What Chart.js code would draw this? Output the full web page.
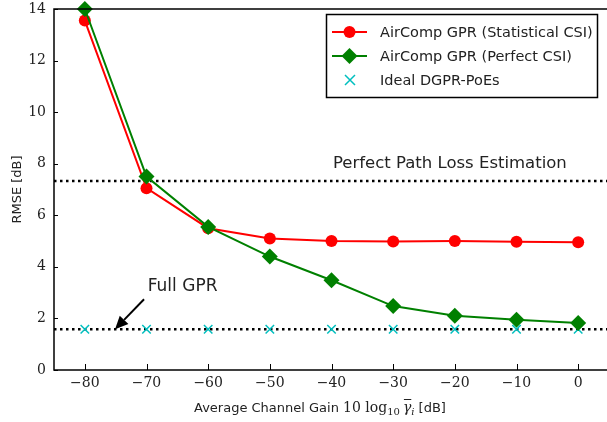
<!DOCTYPE html>
<html>
<head>
<meta charset="utf-8">
<script src="https://cdn.jsdelivr.net/npm/chart.js@4/dist/chart.umd.min.js"></script>
<style>
  html, body { margin: 0; padding: 0; background: #fff; overflow: hidden; }
  #wrap { width: 607px; height: 422px; overflow: hidden; }
</style>
</head>
<body>
<div id="wrap"><canvas id="c" width="612" height="422"></canvas></div>
<script>
// Average channel gain (dB) on the x axis
const gains = [-80, -70, -60, -50, -40, -30, -20, -10, 0];
// RMSE [dB] for each scheme
const rmseStatistical = [13.55, 7.05, 5.5, 5.1, 5.0, 4.98, 5.0, 4.97, 4.95];
const rmsePerfect = [14.0, 7.5, 5.55, 4.4, 3.48, 2.48, 2.1, 1.95, 1.82];
const rmseIdeal = [1.58, 1.58, 1.58, 1.58, 1.58, 1.58, 1.58, 1.58, 1.58];
// Reference levels
const pathLossLevel = 7.33;
const fullGprLevel = 1.58;
const xTicks = [-80, -70, -60, -50, -40, -30, -20, -10, 0];
const yTicks = [0, 2, 4, 6, 8, 10, 12, 14];

const SANS = '"DejaVu Sans", sans-serif';
const SERIF = '"DejaVu Serif", "Liberation Serif", serif';
const CYAN = '#00bfbf';

const pts = (ys) => gains.map((g, i) => ({ x: g, y: ys[i] }));
const hline = (v) => [{ x: -85, y: v }, { x: 5, y: v }];

const legendItems = [
  { label: 'AirComp GPR (Statistical CSI)', color: '#ff0000', style: 'circle', line: true },
  { label: 'AirComp GPR (Perfect CSI)', color: '#008000', style: 'rectRot', line: true },
  { label: 'Ideal DGPR-PoEs', color: CYAN, style: 'crossRot', line: false }
];

// Draws a run of [text, font, dy, overline, gapAfter] pieces left to right
function drawRuns(ctx, runs, x, y) {
  let cx = x;
  runs.forEach(r => {
    ctx.font = r[1];
    ctx.fillText(r[0], cx, y + (r[2] || 0));
    const w = ctx.measureText(r[0]).width;
    if (r[3]) {
      ctx.fillRect(cx + 1, y - 13, w - 1, 1);
    }
    cx += w + (r[4] || 0);
  });
  return cx;
}

const framePlugin = {
  id: 'frame',
  afterDatasetsDraw(chart) {
    const { ctx, chartArea: a, scales } = chart;
    ctx.save();
    // inward tick marks
    ctx.strokeStyle = '#000';
    ctx.lineWidth = 1;
    scales.x.ticks.forEach(t => {
      const px = Math.round(scales.x.getPixelForValue(t.value)) + 0.5;
      ctx.beginPath(); ctx.moveTo(px, a.bottom); ctx.lineTo(px, a.bottom - 6); ctx.stroke();
    });
    scales.y.ticks.forEach(t => {
      const py = Math.round(scales.y.getPixelForValue(t.value)) + 0.5;
      ctx.beginPath(); ctx.moveTo(a.left, py); ctx.lineTo(a.left + 4, py); ctx.stroke();
    });
    // plot frame
    ctx.lineWidth = 1.5;
    ctx.strokeRect(a.left, a.top, a.right - a.left, a.bottom - a.top);

    // annotations
    ctx.fillStyle = '#222';
    ctx.font = '16.5px ' + SANS;
    ctx.textAlign = 'center';
    ctx.textBaseline = 'middle';
    const yPL = scales.y.getPixelForValue(pathLossLevel);
    ctx.fillText('Perfect Path Loss Estimation', scales.x.getPixelForValue(-20.8), yPL - 17);
    const yFG = scales.y.getPixelForValue(fullGprLevel);
    ctx.textAlign = 'left';
    ctx.font = '17px ' + SANS;
    ctx.fillText('Full GPR', scales.x.getPixelForValue(-69.8), yFG - 43);

    // arrow pointing at the Full GPR level
    const tipX = scales.x.getPixelForValue(-75.1), tipY = yFG;
    const tailX = tipX + 29, tailY = tipY - 30;
    const ang = Math.atan2(tipY - tailY, tipX - tailX);
    const hl = 13, hw = 6;
    const bx = tipX - hl * Math.cos(ang), by = tipY - hl * Math.sin(ang);
    ctx.strokeStyle = '#000';
    ctx.lineWidth = 2;
    ctx.beginPath(); ctx.moveTo(tailX, tailY); ctx.lineTo(bx, by); ctx.stroke();
    ctx.fillStyle = '#000';
    ctx.beginPath();
    ctx.moveTo(tipX, tipY);
    ctx.lineTo(bx + hw * Math.sin(ang), by - hw * Math.cos(ang));
    ctx.lineTo(bx - hw * Math.sin(ang), by + hw * Math.cos(ang));
    ctx.closePath(); ctx.fill();

    // x axis title with math part
    ctx.fillStyle = '#222';
    ctx.textBaseline = 'alphabetic';
    ctx.textAlign = 'left';
    drawRuns(ctx, [
      ['Average Channel Gain ', '13px ' + SANS, 0, false, 0],
      ['10 log', '14px ' + SERIF, 0, false, 0],
      ['10', '10px ' + SERIF, 3, false, 3],
      ['\u03B3', 'italic 14px ' + SERIF, 0, true, 0],
      ['i', 'italic 10px ' + SERIF, 3, false, 0],
      [' [dB]', '13px ' + SANS, 0, false, 0]
    ], 194, 412);

    // legend box
    const lx = 326, ly = 14, lw = 271, lh = 83;
    ctx.fillStyle = '#fff';
    ctx.fillRect(lx, ly, lw, lh);
    ctx.strokeStyle = '#000';
    ctx.lineWidth = 1.5;
    ctx.strokeRect(lx + 0.5, ly + 0.5, lw, lh);
    ctx.font = '14.5px ' + SANS;
    ctx.textAlign = 'left';
    ctx.textBaseline = 'middle';
    legendItems.forEach((it, i) => {
      const cy = 32 + i * 24;
      if (it.line) {
        ctx.strokeStyle = it.color; ctx.lineWidth = 2;
        ctx.beginPath(); ctx.moveTo(332, cy); ctx.lineTo(367, cy); ctx.stroke();
      }
      ctx.fillStyle = it.color; ctx.strokeStyle = it.color;
      if (it.style === 'circle') {
        ctx.beginPath(); ctx.arc(349.5, cy, 6, 0, Math.PI * 2); ctx.fill();
      } else if (it.style === 'rectRot') {
        ctx.beginPath();
        ctx.moveTo(349.5, cy - 8); ctx.lineTo(357.5, cy); ctx.lineTo(349.5, cy + 8); ctx.lineTo(341.5, cy);
        ctx.closePath(); ctx.fill();
      } else {
        ctx.lineWidth = 1.5;
        ctx.beginPath();
        ctx.moveTo(345, cy - 5); ctx.lineTo(355, cy + 5);
        ctx.moveTo(355, cy - 5); ctx.lineTo(345, cy + 5);
        ctx.stroke();
      }
      ctx.fillStyle = '#222';
      ctx.fillText(it.label, 380, cy + 1);
    });
    ctx.restore();
  }
};

new Chart(document.getElementById('c'), {
  type: 'line',
  data: {
    datasets: [
      {
        label: 'Perfect Path Loss Estimation', data: hline(pathLossLevel),
        borderColor: '#000', borderWidth: 2.5, borderDash: [2.5, 3.5], pointRadius: 0, order: 5
      },
      {
        label: 'Full GPR', data: hline(fullGprLevel),
        borderColor: '#000', borderWidth: 2.5, borderDash: [2.5, 3.5], pointRadius: 0, order: 5
      },
      {
        label: legendItems[0].label, data: pts(rmseStatistical),
        borderColor: '#ff0000', backgroundColor: '#ff0000', borderWidth: 2,
        pointStyle: 'circle', pointRadius: 6, pointBorderWidth: 0, order: 3
      },
      {
        label: legendItems[1].label, data: pts(rmsePerfect),
        borderColor: '#008000', backgroundColor: '#008000', borderWidth: 2,
        pointStyle: 'rectRot', pointRadius: 8, pointBorderWidth: 0, order: 2
      },
      {
        label: legendItems[2].label, data: pts(rmseIdeal),
        showLine: false, borderColor: CYAN, backgroundColor: CYAN,
        pointStyle: 'crossRot', pointRadius: 6, pointBorderWidth: 1.5, order: 4
      }
    ]
  },
  options: {
    responsive: false,
    animation: false,
    clip: false,
    layout: { autoPadding: false, padding: { top: 9, right: 3, left: 0, bottom: 0 } },
    plugins: { legend: { display: false }, tooltip: { enabled: false } },
    scales: {
      x: {
        type: 'linear', min: -85, max: 5,
        afterBuildTicks: (s) => { s.ticks = xTicks.map(v => ({ value: v })); },
        afterFit: (s) => { s.height = 52; s.paddingLeft = 0; s.paddingRight = 0; },
        grid: { display: false, drawTicks: false },
        border: { display: false },
        ticks: {
          color: '#222', font: { family: SERIF, size: 14 }, padding: 5,
          callback: (v) => (v < 0 ? '\u2212' + Math.abs(v) : String(v))
        },
        title: { display: false }
      },
      y: {
        min: 0, max: 14,
        afterBuildTicks: (s) => { s.ticks = yTicks.map(v => ({ value: v })); },
        afterFit: (s) => { s.width = 54; s.paddingTop = 0; s.paddingBottom = 0; },
        grid: { display: false, drawTicks: false },
        border: { display: false },
        ticks: { color: '#222', font: { family: SERIF, size: 14 }, padding: 8 },
        title: {
          display: true, text: 'RMSE [dB]', color: '#222',
          font: { family: SANS, size: 13 }, padding: { top: 10, bottom: 0 }
        }
      }
    }
  },
  plugins: [framePlugin]
});
</script>
</body>
</html>
